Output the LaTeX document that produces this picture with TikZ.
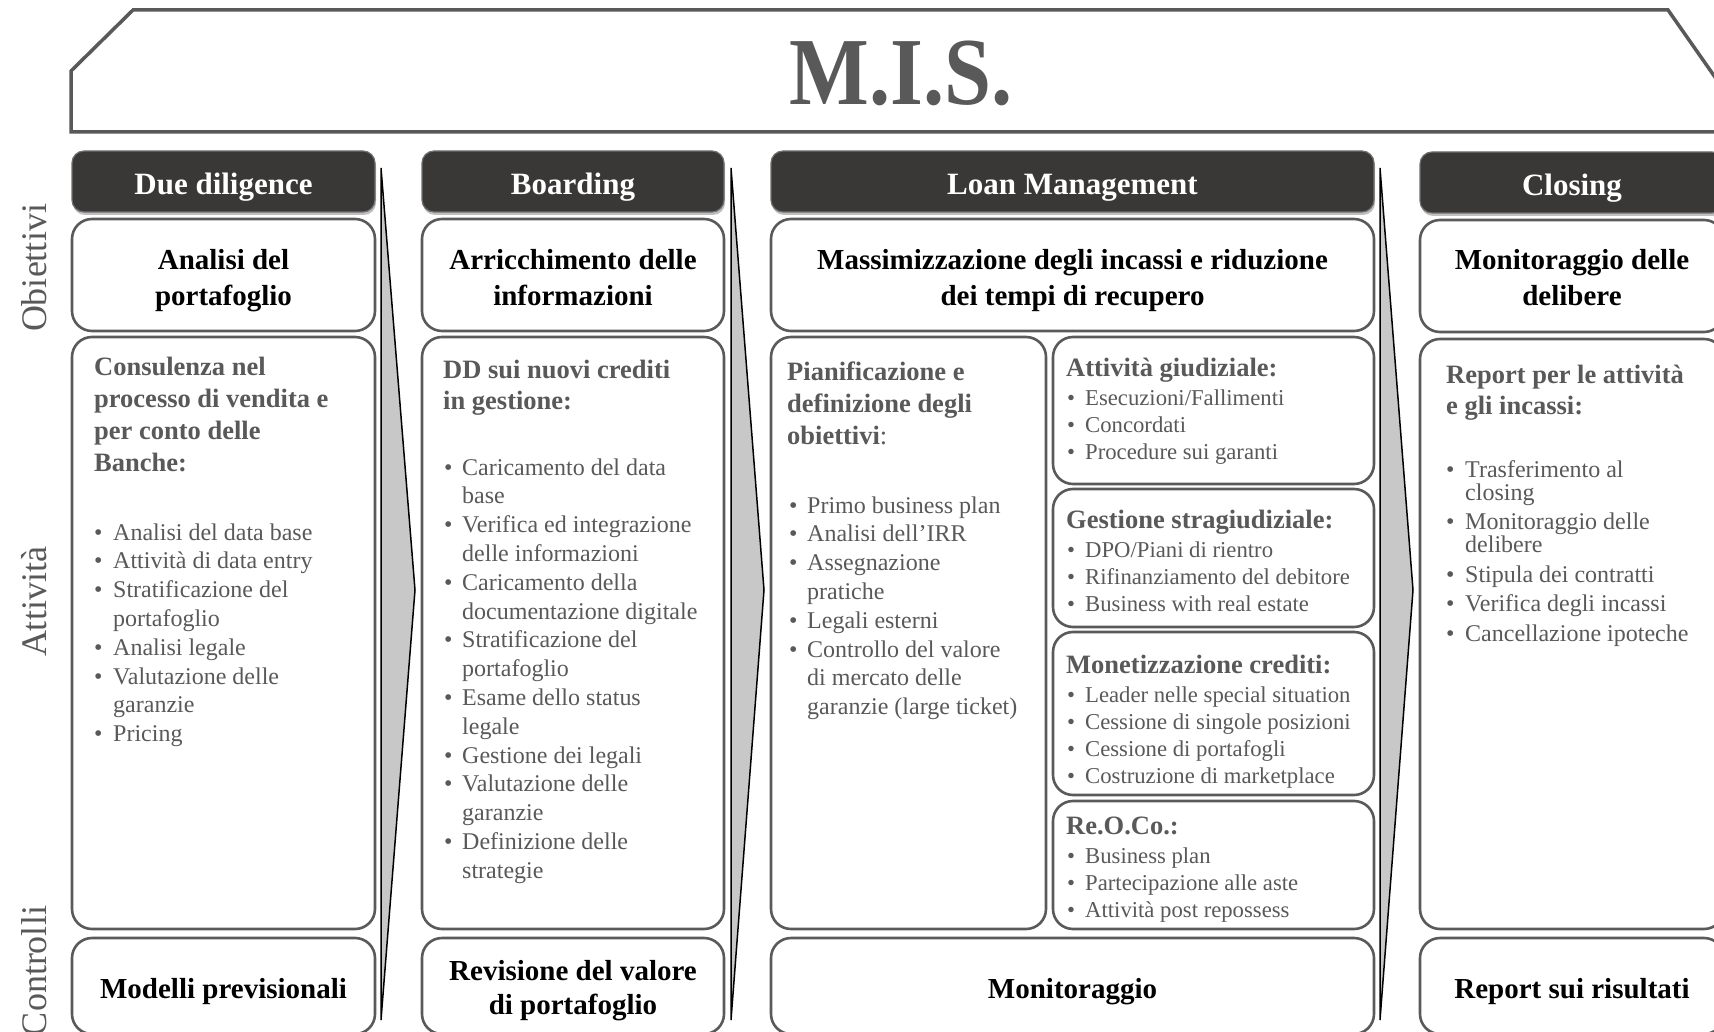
\documentclass[tikz,border=0pt]{standalone}
\usepackage{fontspec}
\setmainfont{Liberation Serif}
\usepackage{graphicx}
\usetikzlibrary{shadows,fit}
\definecolor{txtc}{HTML}{595959}
\definecolor{boxc}{HTML}{5A5A5A}
\definecolor{hdrc}{HTML}{3A3837}
\definecolor{hdrline}{HTML}{707070}
\definecolor{chevc}{HTML}{C8C8C8}
\newdimen\bhang
\newcommand\nl{\hfil\break}
\newcommand\bi[1]{\hangindent=\bhang\hangafter=1\noindent\hbox to\bhang{\textbullet\hfil}#1\par}
\newcommand\blist[3]{\vtop{\hsize=600pt\parindent=0pt\parskip=0pt\baselineskip=#1\lineskiplimit=-100pt\bhang=#2\relax #3}}
\newcommand\ltext[2]{\vtop{\baselineskip=#1\lineskiplimit=-100pt\halign{##\hfil\cr#2\crcr}}}
\newcommand\ctext[2]{\vtop{\baselineskip=#1\lineskiplimit=-100pt\halign{\hfil##\hfil\cr#2\crcr}}}
\newcommand\fTitle{\fontsize{96}{100}\selectfont\bfseries}
\newcommand\fLbl{\fontsize{36}{40}\selectfont}
\newcommand\fHdr{\fontsize{31}{36}\selectfont\bfseries}
\newcommand\fObj{\fontsize{29}{35}\selectfont\bfseries}
\newcommand\fHead{\fontsize{26.5}{32}\selectfont\bfseries}
\newcommand\fBody{\fontsize{24}{28.8}\selectfont}
\newcommand\fSmall{\fontsize{22.7}{27.2}\selectfont}
\begin{document}
\begin{tikzpicture}[x=1pt,y=-1pt,
  banner/.style={draw=txtc, line width=3.5pt, fill=white, line join=miter},
  wbox/.style={draw=boxc, line width=2.6pt, fill=white, rounded corners=20pt, inner sep=0pt},
  hdr/.style={draw=hdrline, line width=1.2pt, fill=hdrc, rounded corners=12pt, inner sep=0pt,
    drop shadow={shadow xshift=1pt, shadow yshift=-3pt, opacity=0.5}},
  chev/.style={draw=black, line width=1.5pt, fill=chevc, line join=miter},
  hdrtxt/.style={font=\fHdr, text=white, anchor=base, inner sep=0pt, yshift=-1pt},
  objtxt/.style={font=\fObj, text=black, anchor=base, inner sep=0pt, yshift=-2pt},
  headtxt/.style={font=\fHead, text=txtc, anchor=base west, inner sep=0pt, yshift=-2pt},
  bodytxt/.style={font=\fBody, text=txtc, anchor=base west, inner sep=0pt, yshift=-2pt},
  smalltxt/.style={font=\fSmall, text=txtc, anchor=base west, inner sep=0pt, yshift=-2pt},
  sidelbl/.style={font=\fLbl, text=txtc, anchor=base, rotate=90, inner sep=0pt}]
\clip (0,0) rectangle (1714,1032);
\fill[white] (0,0) rectangle (1714,1032);

% banner
\draw[banner] (133,10) -- (1668,10) -- (1717,80) -- (1717,132) -- (71,132) -- (71,71) -- cycle;
\node[font=\fTitle, text=txtc, anchor=base, inner sep=0pt] (title) at (901,105) {\scalebox{0.88}[1]{M.I.S.}};

% side labels
\node[sidelbl] (lobj) at (46,268) {Obiettivi};
\node[sidelbl] (latt) at (46,602) {Attività};
\node[sidelbl] (lctr) at (46,971) {Controlli};

% chevrons
\draw[chev] (381,168) -- (415,590) -- (381,1020) -- cycle;
\draw[chev] (731,168) -- (764,590) -- (731,1020) -- cycle;
\draw[chev] (1380,168) -- (1413,590) -- (1380,1020) -- cycle;

% headers
\node[hdr, fit={(72,151) (375,212)}] (h1) {};
\node[hdr, fit={(422,151) (724,212)}] (h2) {};
\node[hdr, fit={(771,151) (1374,212)}] (h3) {};
\node[hdr, fit={(1420,152) (1724,213)}] (h4) {};
\node[hdrtxt] (h1t) at (223.5,194) {Due diligence};
\node[hdrtxt] (h2t) at (573,194) {Boarding};
\node[hdrtxt] (h3t) at (1072.5,194) {Loan Management};
\node[hdrtxt] (h4t) at (1572,195) {Closing};

% obiettivi boxes
\node[wbox, fit={(72,219) (375,331)}] (o1) {};
\node[wbox, fit={(422,219) (724,331)}] (o2) {};
\node[wbox, fit={(771,219) (1374,331)}] (o3) {};
\node[wbox, fit={(1420,220) (1724,332)}] (o4) {};
\node[objtxt] (o1t) at (223.5,268) {\ctext{36pt}{Analisi del\cr portafoglio}};
\node[objtxt] (o2t) at (573,268) {\ctext{36pt}{Arricchimento delle\cr informazioni}};
\node[objtxt] (o3t) at (1072.5,268) {\ctext{36pt}{Massimizzazione degli incassi e riduzione\cr dei tempi di recupero}};
\node[objtxt] (o4t) at (1572,268) {\ctext{36pt}{Monitoraggio delle\cr delibere}};

% attivita boxes
\node[wbox, fit={(72,337) (375,929)}] (a1) {};
\node[wbox, fit={(422,337) (724,929)}] (a2) {};
\node[wbox, fit={(771,337) (1046,929)}] (a3) {};
\node[wbox, fit={(1053,337) (1374,484)}] (a3a) {};
\node[wbox, fit={(1053,489) (1374,627)}] (a3b) {};
\node[wbox, fit={(1053,632) (1374,795)}] (a3c) {};
\node[wbox, fit={(1053,801) (1374,929)}] (a3d) {};
\node[wbox, fit={(1420,339) (1724,929)}] (a4) {};

% controlli boxes
\node[wbox, fit={(72,938) (375,1034)}] (c1) {};
\node[wbox, fit={(422,938) (724,1034)}] (c2) {};
\node[wbox, fit={(771,938) (1374,1034)}] (c3) {};
\node[wbox, fit={(1420,938) (1724,1034)}] (c4) {};
\node[objtxt, yshift=1pt] (c1t) at (223.5,997) {Modelli previsionali};
\node[objtxt, yshift=1pt] (c2t) at (573,979) {\ctext{34pt}{Revisione del valore\cr di portafoglio}};
\node[objtxt, yshift=1pt] (c3t) at (1072.5,997) {Monitoraggio};
\node[objtxt, yshift=1pt] (c4t) at (1572,997) {Report sui risultati};

% Due diligence activities
\node[headtxt] (a1h) at (94,374) {\ltext{32pt}{Consulenza nel\cr processo di vendita e\cr per conto delle\cr Banche:}};
\node[bodytxt] (a1l) at (94,538) {\blist{28.8pt}{19pt}{%
\bi{Analisi del data base}
\bi{Attività di data entry}
\bi{Stratificazione del\nl portafoglio}
\bi{Analisi legale}
\bi{Valutazione delle\nl garanzie}
\bi{Pricing}}};

% Boarding activities
\node[headtxt] (a2h) at (443,376) {\ltext{32pt}{DD sui nuovi crediti\cr in gestione:}};
\node[bodytxt] (a2l) at (444,473) {\blist{28.8pt}{18pt}{%
\bi{Caricamento del data\nl base}
\bi{Verifica ed integrazione\nl delle informazioni}
\bi{Caricamento della\nl documentazione digitale}
\bi{Stratificazione del\nl portafoglio}
\bi{Esame dello status\nl legale}
\bi{Gestione dei legali}
\bi{Valutazione delle\nl garanzie}
\bi{Definizione delle\nl strategie}}};

% Loan management activities
\node[headtxt] (a3h) at (787,379) {\ltext{32pt}{Pianificazione e\cr definizione degli\cr obiettivi{\mdseries :}}};
\node[bodytxt] (a3l) at (789,511) {\blist{28.8pt}{18pt}{%
\bi{Primo business plan}
\bi{Analisi dell’IRR}
\bi{Assegnazione\nl pratiche}
\bi{Legali esterni}
\bi{Controllo del valore\nl di mercato delle\nl garanzie (large ticket)}}};

\node[headtxt] (a3ah) at (1066,375) {Attività giudiziale:};
\node[smalltxt] (a3al) at (1067,403) {\blist{27.2pt}{18pt}{%
\bi{Esecuzioni/Fallimenti}
\bi{Concordati}
\bi{Procedure sui garanti}}};
\node[headtxt] (a3bh) at (1066,526) {Gestione stragiudiziale:};
\node[smalltxt] (a3bl) at (1067,555) {\blist{27.2pt}{18pt}{%
\bi{DPO/Piani di rientro}
\bi{Rifinanziamento del debitore}
\bi{Business with real estate}}};
\node[headtxt] (a3ch) at (1066,671) {Monetizzazione crediti:};
\node[smalltxt] (a3cl) at (1067,700) {\blist{27.2pt}{18pt}{%
\bi{Leader nelle special situation}
\bi{Cessione di singole posizioni}
\bi{Cessione di portafogli}
\bi{Costruzione di marketplace}}};
\node[headtxt] (a3dh) at (1066,832) {Re.O.Co.:};
\node[smalltxt] (a3dl) at (1067,861) {\blist{27.2pt}{18pt}{%
\bi{Business plan}
\bi{Partecipazione alle aste}
\bi{Attività post repossess}}};

% Closing activities
\node[headtxt] (a4h) at (1446,382) {\ltext{31pt}{Report per le attività\cr e gli incassi:}};
\node[bodytxt] (a4l) at (1446,475) {\blist{23pt}{19pt}{%
\bi{Trasferimento al\nl closing}\vskip6.5pt
\bi{Monitoraggio delle\nl delibere}\vskip6.5pt
\bi{Stipula dei contratti}\vskip6.5pt
\bi{Verifica degli incassi}\vskip6.5pt
\bi{Cancellazione ipoteche}}};
\end{tikzpicture}
\end{document}
